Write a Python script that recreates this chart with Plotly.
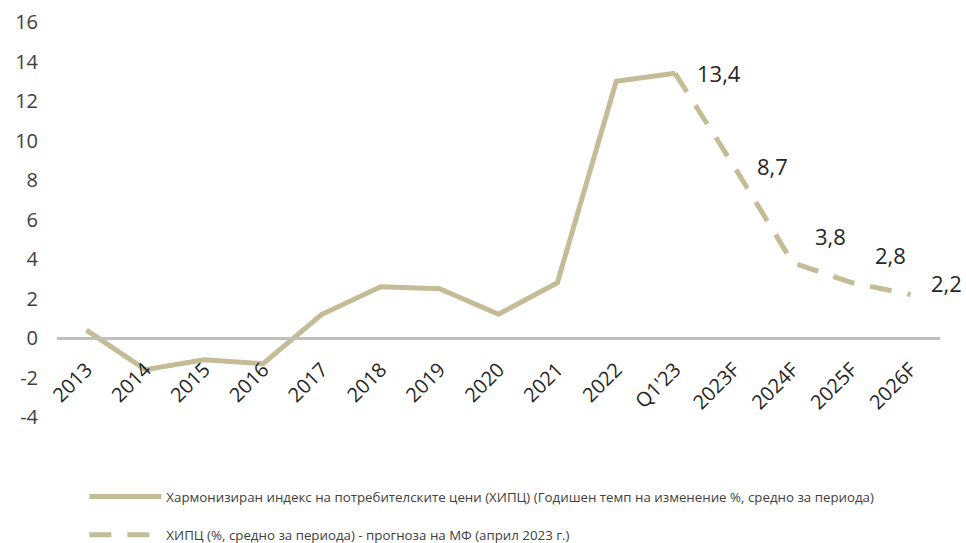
import plotly.graph_objects as go

categories = ["2013", "2014", "2015", "2016", "2017", "2018", "2019", "2020",
              "2021", "2022", "Q1'23", "2023F", "2024F", "2025F", "2026F"]
hicp_actual = [0.4, -1.6, -1.1, -1.3, 1.2, 2.6, 2.5, 1.2, 2.8, 13.0, 13.4,
               None, None, None, None]
hicp_forecast = [None] * 10 + [13.4, 8.7, 3.8, 2.8, 2.2]
ytick_vals = [-4, -2, 0, 2, 4, 6, 8, 10, 12, 14, 16]
ytick_text = ["-4", "-2", "0", "2", "4", "6", "8", "10", "12", "14", "16"]
name_actual = "Хармонизиран индекс на потребителските цени (ХИПЦ) (Годишен темп на изменение %, средно за периода)"
name_forecast = "ХИПЦ (%, средно за периода) - прогноза на МФ (април 2023 г.)"

# label offsets (style only)
label_shift = {"Q1'23": (20, 0), "2023F": (21, 0), "2024F": (20, 27),
               "2025F": (21, 28), "2026F": (18, 12)}

LINE_COLOR = "#C4BC96"
FONT = "Open Sans"
Y_MIN, Y_MAX = -4, 16

fig = go.Figure()
fig.add_trace(go.Scatter(x=categories, y=hicp_actual, mode="lines",
                         name=name_actual, legendgroup="a",
                         line=dict(color=LINE_COLOR, width=5),
                         connectgaps=False))
fig.add_trace(go.Scatter(x=categories, y=hicp_forecast, mode="lines",
                         name=name_forecast, legendgroup="b",
                         line=dict(color=LINE_COLOR, width=5, dash="22px,16px"),
                         connectgaps=False))

for c, v in zip(categories, hicp_forecast):
    if v is None:
        continue
    dx, dy = label_shift[c]
    fig.add_annotation(x=c, y=v, text=f"{v:.1f}".replace(".", ","),
                       showarrow=False, xanchor="left", yanchor="middle",
                       xshift=dx, yshift=dy,
                       font=dict(family=FONT, size=22, color="#262626"))

zero_pos = (0 - Y_MIN) / (Y_MAX - Y_MIN)

fig.update_layout(
    width=966, height=543,
    margin=dict(l=57, r=26, t=22, b=126, autoexpand=False),
    paper_bgcolor="white", plot_bgcolor="white",
    font=dict(family=FONT, color="#404040"),
    showlegend=True,
    legend=dict(orientation="v", x=0.031, xanchor="left", y=-0.163, yanchor="top",
                font=dict(family=FONT, size=13.3, color="#404040"),
                itemwidth=72,
                tracegroupgap=18, bgcolor="rgba(0,0,0,0)"),
    xaxis=dict(type="category", range=[-0.5, len(categories) - 0.5],
               anchor="free", position=zero_pos,
               showline=True, linecolor="#BFBFBF", linewidth=3,
               showgrid=False, zeroline=False, ticks="",
               ticklabelstandoff=10,
               tickangle=-45, tickfont=dict(family=FONT, size=20, color="#262626")),
    yaxis=dict(range=[Y_MIN, Y_MAX], tickvals=ytick_vals, ticktext=ytick_text,
               showgrid=False, zeroline=False, showline=False, ticks="",
               ticklabelstandoff=18,
               tickfont=dict(family=FONT, size=20, color="#404040")),
)

fig.write_html("out.html", config={"displayModeBar": False},
               post_script="document.body.style.margin='0';document.body.style.overflow='hidden';")
